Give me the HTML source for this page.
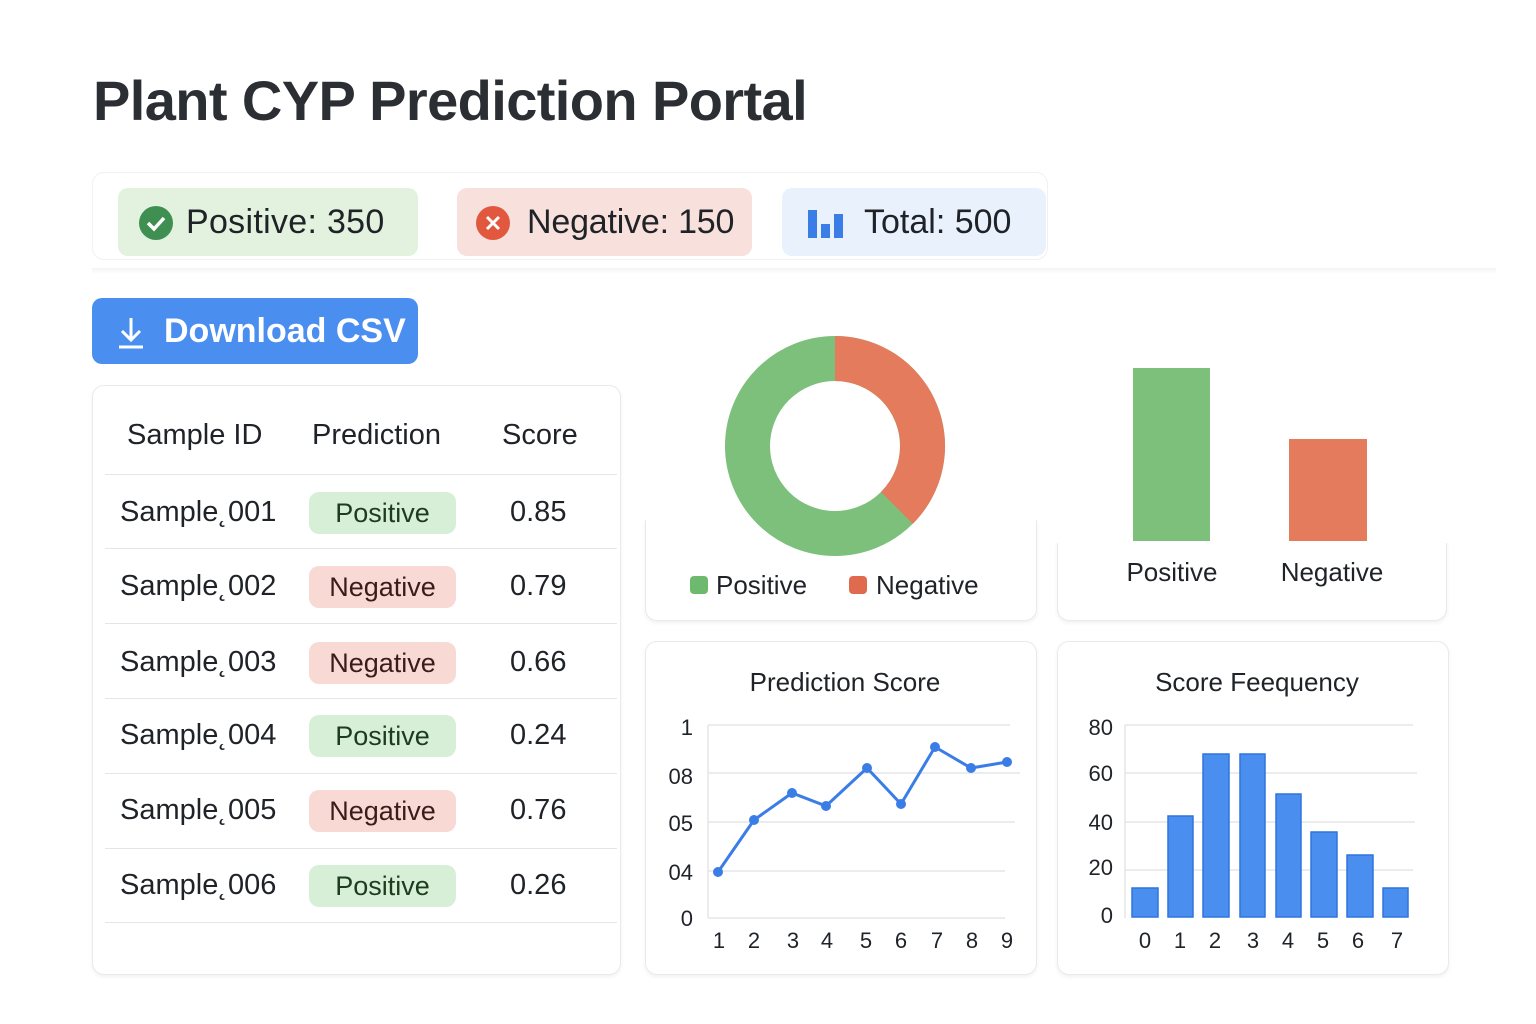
<!DOCTYPE html>
<html><head><meta charset="utf-8"><style>
body{margin:0;width:1536px;height:1024px;background:#fff;font-family:"Liberation Sans",sans-serif;color:#1f2328;position:relative;overflow:hidden}
.a{position:absolute}
.card{position:absolute;background:#fff;border:1px solid #e8eaec;border-radius:12px;box-shadow:0 2px 4px rgba(0,0,0,.06)}
.pill{position:absolute;border-radius:10px;font-size:34px;display:flex;align-items:center}
.t{position:absolute;font-size:29px;white-space:nowrap}
.bp{position:absolute;left:309px;width:147px;height:42px;border-radius:10px;font-size:27px;text-align:center;line-height:42px}
.pos{background:#d7efd6;color:#1d3b1f}.neg{background:#f8d9d4;color:#3a1c18}
.sep{position:absolute;left:105px;width:512px;height:1px;background:#e3e5e7}
</style></head><body>
<div class="a" style="left:93px;top:68px;font-size:56px;font-weight:bold;color:#2b2f33;letter-spacing:-0.6px">Plant CYP Prediction Portal</div>
<div class="card" style="left:92px;top:172px;width:954px;height:86px;box-shadow:none;border-color:#f0f1f2"></div>
<div class="a" style="left:92px;top:268px;width:1404px;height:6px;background:linear-gradient(#f3f4f5,#fff)"></div>
<div class="pill" style="left:118px;top:188px;width:300px;height:68px;background:#e3f1df">
<svg class="a" style="left:20px;top:17px" width="36" height="36"><circle cx="18" cy="18" r="17" fill="#3f8f52"/><path d="M10 18l6 6 10-11" stroke="#fff" stroke-width="3.5" fill="none"/></svg>
<span style="margin-left:68px;letter-spacing:0.3px">Positive: 350</span></div>
<div class="pill" style="left:457px;top:188px;width:295px;height:68px;background:#f8e0dc">
<svg class="a" style="left:18px;top:17px" width="36" height="36"><circle cx="18" cy="18" r="17" fill="#e2583f"/><path d="M12 12l12 12M24 12l-12 12" stroke="#fff" stroke-width="3"/></svg>
<span style="margin-left:70px;letter-spacing:-0.2px">Negative: 150</span></div>
<div class="pill" style="left:782px;top:188px;width:264px;height:68px;background:#e9f1fd">
<svg class="a" style="left:24px;top:20px" width="40" height="32"><rect x="2" y="2" width="9" height="28" fill="#3b7de6"/><rect x="15" y="16" width="9" height="14" fill="#3b7de6"/><rect x="28" y="6" width="9" height="24" fill="#3b7de6"/></svg>
<span style="margin-left:82px">Total: 500</span></div>
<div class="a" style="left:92px;top:298px;width:326px;height:66px;background:#4a8ff0;border-radius:10px;color:#fff;font-size:34px;font-weight:bold;line-height:66px">
<svg class="a" style="left:24px;top:18px" width="30" height="34"><path d="M15 2v22M6 15l9 9 9-9M3 31h24" stroke="#fff" stroke-width="3" fill="none"/></svg>
<span style="margin-left:72px">Download CSV</span></div>

<div class="card" style="left:92px;top:385px;width:527px;height:588px"></div>
<div class="t" style="left:127px;top:419px">Sample ID</div><div class="t" style="left:312px;top:419px">Prediction</div><div class="t" style="left:502px;top:419px">Score</div>
<div class="sep" style="top:474px"></div><div class="sep" style="top:548px"></div><div class="sep" style="top:623px"></div><div class="sep" style="top:698px"></div><div class="sep" style="top:773px"></div><div class="sep" style="top:848px"></div><div class="sep" style="top:922px"></div>
<div class="t" style="left:120px;top:496px">Sample˛001</div><div class="bp pos" style="top:492px">Positive</div><div class="t" style="left:510px;top:496px">0.85</div>
<div class="t" style="left:120px;top:570px">Sample˛002</div><div class="bp neg" style="top:566px">Negative</div><div class="t" style="left:510px;top:570px">0.79</div>
<div class="t" style="left:120px;top:646px">Sample˛003</div><div class="bp neg" style="top:642px">Negative</div><div class="t" style="left:510px;top:646px">0.66</div>
<div class="t" style="left:120px;top:719px">Sample˛004</div><div class="bp pos" style="top:715px">Positive</div><div class="t" style="left:510px;top:719px">0.24</div>
<div class="t" style="left:120px;top:794px">Sample˛005</div><div class="bp neg" style="top:790px">Negative</div><div class="t" style="left:510px;top:794px">0.76</div>
<div class="t" style="left:120px;top:869px">Sample˛006</div><div class="bp pos" style="top:865px">Positive</div><div class="t" style="left:510px;top:869px">0.26</div>

<div class="card" style="left:645px;top:520px;width:390px;height:100px;border-top:none;border-radius:0 0 12px 12px"></div>
<div class="card" style="left:1057px;top:543px;width:388px;height:77px;border-top:none;border-radius:0 0 12px 12px"></div>
<svg class="a" style="left:0;top:0" width="1536" height="1024">
<circle cx="835" cy="446" r="87.5" fill="none" stroke="#7cc07c" stroke-width="45"/>
<path d="M835 336A110 110 0 0 1 912.8 523.8L881 492A65 65 0 0 0 835 381Z" fill="#e47b5c"/>
<rect x="1133" y="368" width="77" height="173" fill="#7cc07c"/>
<rect x="1289" y="439" width="78" height="102" fill="#e47b5c"/>
<rect x="690" y="576" width="18" height="18" rx="4" fill="#6db96d"/>
<rect x="849" y="576" width="18" height="18" rx="4" fill="#e06a4e"/>
<g font-family="Liberation Sans" font-size="26" fill="#1f2328">
<text x="716" y="594">Positive</text><text x="876" y="594">Negative</text>
<text x="1172" y="581" text-anchor="middle">Positive</text><text x="1332" y="581" text-anchor="middle">Negative</text>
</g>
</svg>

<div class="card" style="left:645px;top:641px;width:390px;height:332px"></div>
<div class="card" style="left:1057px;top:641px;width:390px;height:332px"></div>
<svg class="a" style="left:0;top:0" width="1536" height="1024">
<g stroke="#e3e5e7" stroke-width="1.5">
<line x1="708" y1="725" x2="1010" y2="725"/><line x1="708" y1="773" x2="1020" y2="773"/><line x1="708" y1="822" x2="1015" y2="822"/><line x1="708" y1="871" x2="1005" y2="871"/><line x1="708" y1="918" x2="1005" y2="918"/><line x1="708" y1="725" x2="708" y2="918"/>
<line x1="1125" y1="725" x2="1413" y2="725"/><line x1="1125" y1="773" x2="1417" y2="773"/><line x1="1125" y1="822" x2="1415" y2="822"/><line x1="1125" y1="870" x2="1413" y2="870"/><line x1="1125" y1="725" x2="1125" y2="918"/>
</g>
<polyline points="718,872 754,820 792,793 826,806 867,768 901,804 935,747 971,768 1007,762" fill="none" stroke="#3b7de6" stroke-width="3"/>
<g fill="#3b7de6"><circle cx="718" cy="872" r="5"/><circle cx="754" cy="820" r="5"/><circle cx="792" cy="793" r="5"/><circle cx="826" cy="806" r="5"/><circle cx="867" cy="768" r="5"/><circle cx="901" cy="804" r="5"/><circle cx="935" cy="747" r="5"/><circle cx="971" cy="768" r="5"/><circle cx="1007" cy="762" r="5"/></g>
<g fill="#4a8ff0" stroke="#2f74dd" stroke-width="1.5">
<rect x="1132" y="888" width="26" height="29"/><rect x="1168" y="816" width="25" height="101"/><rect x="1203" y="754" width="26" height="163"/><rect x="1240" y="754" width="25" height="163"/><rect x="1276" y="794" width="25" height="123"/><rect x="1311" y="832" width="26" height="85"/><rect x="1347" y="855" width="26" height="62"/><rect x="1383" y="888" width="25" height="29"/>
</g>
<g font-family="Liberation Sans" font-size="22" fill="#1f2328">
<text x="845" y="691" text-anchor="middle" font-size="26">Prediction Score</text>
<text x="1257" y="691" text-anchor="middle" font-size="26">Score Feequency</text>
<g text-anchor="end"><text x="693" y="735">1</text><text x="693" y="784">08</text><text x="693" y="831">05</text><text x="693" y="880">04</text><text x="693" y="926">0</text>
<text x="1113" y="735">80</text><text x="1113" y="781">60</text><text x="1113" y="830">40</text><text x="1113" y="875">20</text><text x="1113" y="923">0</text></g>
<g text-anchor="middle"><text x="719" y="948">1</text><text x="754" y="948">2</text><text x="793" y="948">3</text><text x="827" y="948">4</text><text x="866" y="948">5</text><text x="901" y="948">6</text><text x="937" y="948">7</text><text x="972" y="948">8</text><text x="1007" y="948">9</text>
<text x="1145" y="948">0</text><text x="1180" y="948">1</text><text x="1215" y="948">2</text><text x="1253" y="948">3</text><text x="1288" y="948">4</text><text x="1323" y="948">5</text><text x="1358" y="948">6</text><text x="1397" y="948">7</text></g>
</g>
</svg>
</body></html>
